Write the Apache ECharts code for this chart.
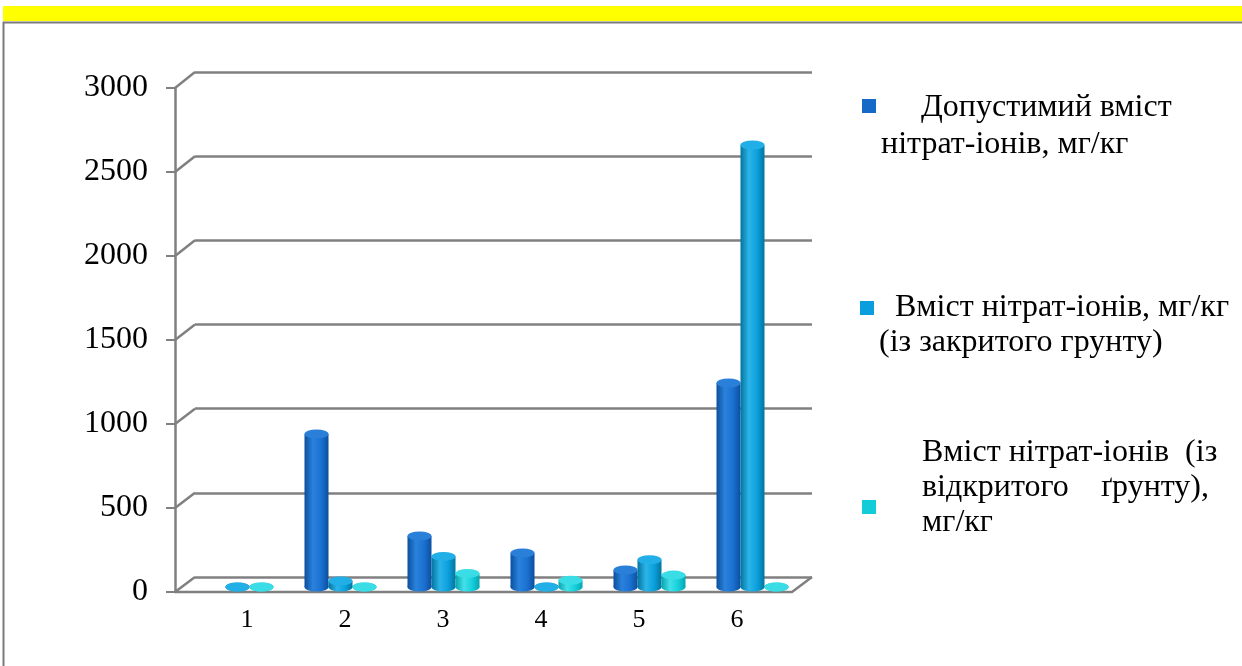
<!DOCTYPE html>
<html><head><meta charset="utf-8">
<script src="https://cdn.jsdelivr.net/npm/echarts@6/dist/echarts.min.js"></script>
<style>html,body{margin:0;padding:0;background:#fff}#c{width:1242px;height:666px}</style>
</head><body><div id="c"></div>
<script>
const categories = ['1','2','3','4','5','6'];
const seriesNames = ['Допустимий вміст нітрат-іонів, мг/кг','Вміст нітрат-іонів, мг/кг (із закритого грунту)','Вміст нітрат-іонів (із відкритого ґрунту), мг/кг'];
const allowed = ['-', 900, 300, 200, 100, 1200];
const closedSoil = [0, 35, 180, 0, 160, 2600];
const openSoil = [0, 0, 80, 40, 70, 0];
const yTicks = [0, 500, 1000, 1500, 2000, 2500, 3000];
const legendLabels = [
  '     Допустимий вміст\nнітрат-іонів, мг/кг',
  '  Вміст нітрат-іонів, мг/кг\n(із закритого грунту)',
  'Вміст нітрат-іонів  (із\nвідкритого    ґрунту),\nмг/кг'
];

const colors = [
  {dark:'#0b4f9e', mid:'#1a70d0', light:'#2a82dc', cap:'#2a7fd8', solid:'#156ac8'},
  {dark:'#03749f', mid:'#0aa0dc', light:'#2cb4e8', cap:'#22aee6', solid:'#0a9fdc'},
  {dark:'#08a4ae', mid:'#14d0dc', light:'#44e0e8', cap:'#3adde6', solid:'#12ccd8'}
];
const dataSets = [allowed, closedSoil, openSoil];
const FONT = '"Liberation Serif","Times New Roman",serif';
const GRAY = '#808080';
const yMin = yTicks[0], yMax = yTicks[yTicks.length-1], yStep = yTicks[1]-yTicks[0];

function grad(c){
  return new echarts.graphic.LinearGradient(0,0,1,0,[
    {offset:0,color:c.dark},{offset:0.35,color:c.light},{offset:0.7,color:c.mid},{offset:1,color:c.dark}]);
}

const series = [];
dataSets.forEach((d,i)=>{
  series.push({name:seriesNames[i], type:'bar', xAxisIndex:2, yAxisIndex:2, data:d,
    barWidth:24, barGap:'0%', itemStyle:{color:grad(colors[i])}, z:3, silent:true});
});
dataSets.forEach((d,i)=>{
  series.push({name:'top'+i, type:'pictorialBar', xAxisIndex:2, yAxisIndex:2, data:d,
    symbol:'circle', symbolSize:[24,9], symbolPosition:'end', symbolOffset:[0,'-50%'],
    barWidth:24, barGap:'0%', itemStyle:{color:colors[i].cap}, z:5, silent:true});
});
dataSets.forEach((d,i)=>{
  series.push({name:'bot'+i, type:'pictorialBar', xAxisIndex:3, yAxisIndex:2, data:d,
    symbol:'circle', symbolSize:[24,9], symbolPosition:'start', symbolOffset:[0,'50%'],
    barWidth:24, barGap:'0%', itemStyle:{color:grad(colors[i])}, z:2, silent:true});
});

// legend icons: square placed inside a taller box so it lines up with a given text line
const legendIcons = [
  'path://M0,0L14,0L14,14L0,14ZM7,54.99L7.01,55L7,55Z',
  'path://M0,0L14,0L14,14L0,14ZM7,48.99L7.01,49L7,49Z',
  'path://M7,0L7.01,0.01L7,0.01ZM0,38L14,38L14,52L0,52Z'
];
const legendH = [55, 49, 52];
const legendTops = [89.5, 290.5, 435.5];
const legendPads = [[0,0,0,0],[0,0,0,0],[0,0,0,41]];
const legendLefts = [862, 860, 862];
const legendLH = [37, 35, 35];
const legends = seriesNames.map((n,i)=>({
  data:[{name:n, itemStyle:{color:colors[i].solid}}], left:legendLefts[i], top:legendTops[i], padding:0, orient:'vertical',
  icon:legendIcons[i], itemWidth:14, itemHeight:legendH[i], selectedMode:false,
  formatter:()=>legendLabels[i],
  textStyle:{fontFamily:FONT, fontSize:32, color:'#000', lineHeight:legendLH[i], padding:legendPads[i]}
}));

const chart = echarts.init(document.getElementById('c'), null, {renderer:'canvas'});
const option = {
  animation:false,
  backgroundColor:'#fff',
  color:colors.map(c=>c.solid),
  legend:legends,
  grid:[
    {left:198, right:456, top:88, bottom:74},
    {left:195, right:430, top:72, bottom:89},
    {left:186, right:438, top:77, bottom:79}
  ],
  xAxis:[
    {type:'category', gridIndex:0, data:categories, axisLine:{show:false}, axisTick:{show:false},
      axisLabel:{fontFamily:FONT, fontSize:26, color:'#000', margin:15}},
    {type:'category', gridIndex:1, data:categories, show:false},
    {type:'category', gridIndex:2, data:categories, show:false},
    {type:'category', gridIndex:2, data:categories, show:false}
  ],
  yAxis:[
    {type:'value', gridIndex:0, min:yMin, max:yMax, interval:yStep, offset:23,
      axisLine:{show:true, lineStyle:{color:GRAY, width:2.5}},
      axisTick:{show:true, length:9, lineStyle:{color:GRAY, width:2}},
      axisLabel:{fontFamily:FONT, fontSize:32, color:'#000', margin:27, formatter:v=>String(v)},
      splitLine:{show:false}},
    {type:'value', gridIndex:1, min:yMin, max:yMax, interval:yStep,
      axisLine:{show:false}, axisTick:{show:false}, axisLabel:{show:false},
      splitLine:{show:true, lineStyle:{color:GRAY, width:2.5}}},
    {type:'value', gridIndex:2, min:yMin, max:yMax, show:false, splitLine:{show:false}}
  ],
  series:series
};
chart.setOption(option);

// decorations: frame, yellow band, 3D connectors and floor
const gBack = chart.getModel().getComponent('grid',1).coordinateSystem.getRect();
const gFront = chart.getModel().getComponent('grid',0).coordinateSystem.getRect();
const frontX = gFront.x - 23;
const gfx = [
  {type:'rect', shape:{x:3,y:6,width:1239,height:15}, style:{fill:'#ffff00'}, silent:true},
  {type:'polyline', shape:{points:[[3.5,666],[3.5,22.5],[1242,22.5]]}, style:{stroke:'#7a7a7a', lineWidth:2, fill:null}, silent:true}
];
yTicks.forEach(v=>{
  const yf = chart.convertToPixel({yAxisIndex:0}, v);
  const yb = chart.convertToPixel({yAxisIndex:1}, v);
  gfx.push({type:'line', shape:{x1:frontX, y1:yf, x2:gBack.x, y2:yb}, style:{stroke:GRAY, lineWidth:2.5}, silent:true, z:1});
});
const y0f = chart.convertToPixel({yAxisIndex:0}, 0);
const y0b = chart.convertToPixel({yAxisIndex:1}, 0);
const backRight = gBack.x + gBack.width;
const frontRight = backRight - (gBack.x - frontX);
gfx.push({type:'polyline', shape:{points:[[frontX,y0f],[frontRight,y0f],[backRight,y0b]]},
  style:{stroke:GRAY, lineWidth:2.5, fill:null}, silent:true, z:1});
chart.setOption({graphic:gfx});
</script></body></html>
